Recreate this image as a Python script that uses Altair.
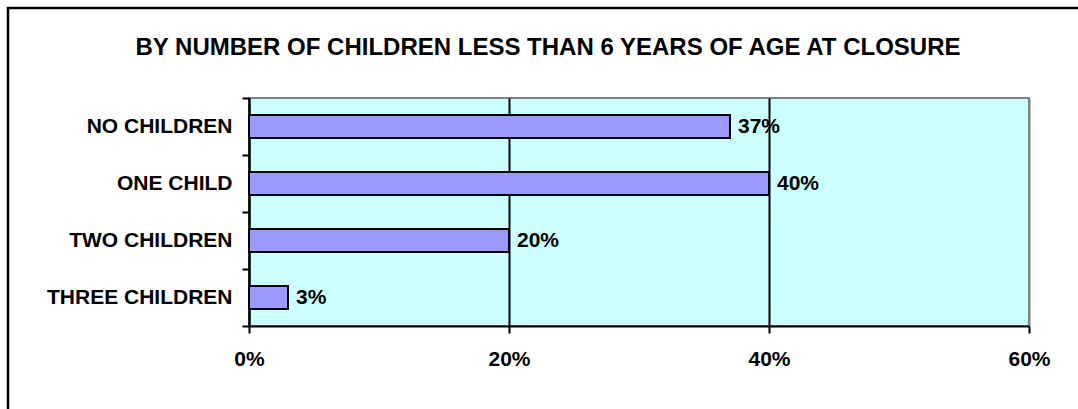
import altair as alt
import pandas as pd

categories = ["NO CHILDREN", "ONE CHILD", "TWO CHILDREN", "THREE CHILDREN"]
values = [37, 40, 20, 3]
x_ticks = [0, 20, 40, 60]
title_text = "BY NUMBER OF CHILDREN LESS THAN 6 YEARS OF AGE AT CLOSURE"

df = pd.DataFrame({"cat": categories, "pct": values})
df["label"] = df["pct"].astype(str) + "%"
title_df = pd.DataFrame({"t": [title_text]})

FONT = "Liberation Sans"
FS = 21

y_enc = alt.Y(
    "cat:N",
    sort=categories,
    scale=alt.Scale(paddingInner=0, paddingOuter=0),
    axis=alt.Axis(
        title=None,
        tickBand="extent",
        domainColor="black",
        domainWidth=2,
        tickColor="black",
        tickWidth=2,
        tickSize=7,
        labelPadding=10,
        labelLimit=400,
        labelFont=FONT,
        labelFontSize=FS,
        labelFontWeight="bold",
        labelColor="black",
        grid=False,
    ),
)

x_enc = alt.X(
    "pct:Q",
    scale=alt.Scale(domain=[0, 60], nice=False),
    axis=alt.Axis(
        title=None,
        values=x_ticks,
        labelExpr="datum.value + '%'",
        domainColor="black",
        domainWidth=2,
        tickColor="black",
        tickWidth=2,
        tickSize=7,
        labelPadding=15,
        labelFont=FONT,
        labelFontSize=FS,
        labelFontWeight="bold",
        labelColor="black",
        labelFlush=False,
        grid=True,
        gridColor={"condition": {"test": "datum.value >= 60", "value": "#808080"}, "value": "black"},
        gridWidth=2,
    ),
)

bars = alt.Chart(df).mark_bar(
    height=alt.RelativeBandSize(0.4),
    color="#9999FF",
    stroke="black",
    strokeWidth=2,
).encode(x=x_enc, y=y_enc)

labels = alt.Chart(df).mark_text(
    align="left", baseline="middle", dx=8,
    font=FONT, fontSize=FS, fontWeight="bold", color="black",
).encode(x="pct:Q", y=alt.Y("cat:N", sort=categories), text="label:N")

title = alt.Chart(title_df).mark_text(
    align="center", baseline="alphabetic",
    font=FONT, fontSize=24, fontWeight="bold", color="black",
).encode(x=alt.value(299), y=alt.value(-43), text="t:N")

border = alt.Chart(title_df).mark_rect(
    fillOpacity=0, stroke="black", strokeWidth=2.5,
).encode(x=alt.value(-241), x2=alt.value(900), y=alt.value(-90), y2=alt.value(400))

chart = alt.layer(bars, labels, title, border).properties(
    width=780,
    height=228,
    padding={"left": 249, "top": 98, "right": 49, "bottom": 83},
    autosize=alt.AutoSizeParams(type="none"),
).configure(
    background="white",
    view=alt.ViewConfig(fill="#CCFFFF", stroke="#808080", strokeWidth=2),
)

chart.save("out.html", embed_options={"renderer": "svg", "actions": False})
